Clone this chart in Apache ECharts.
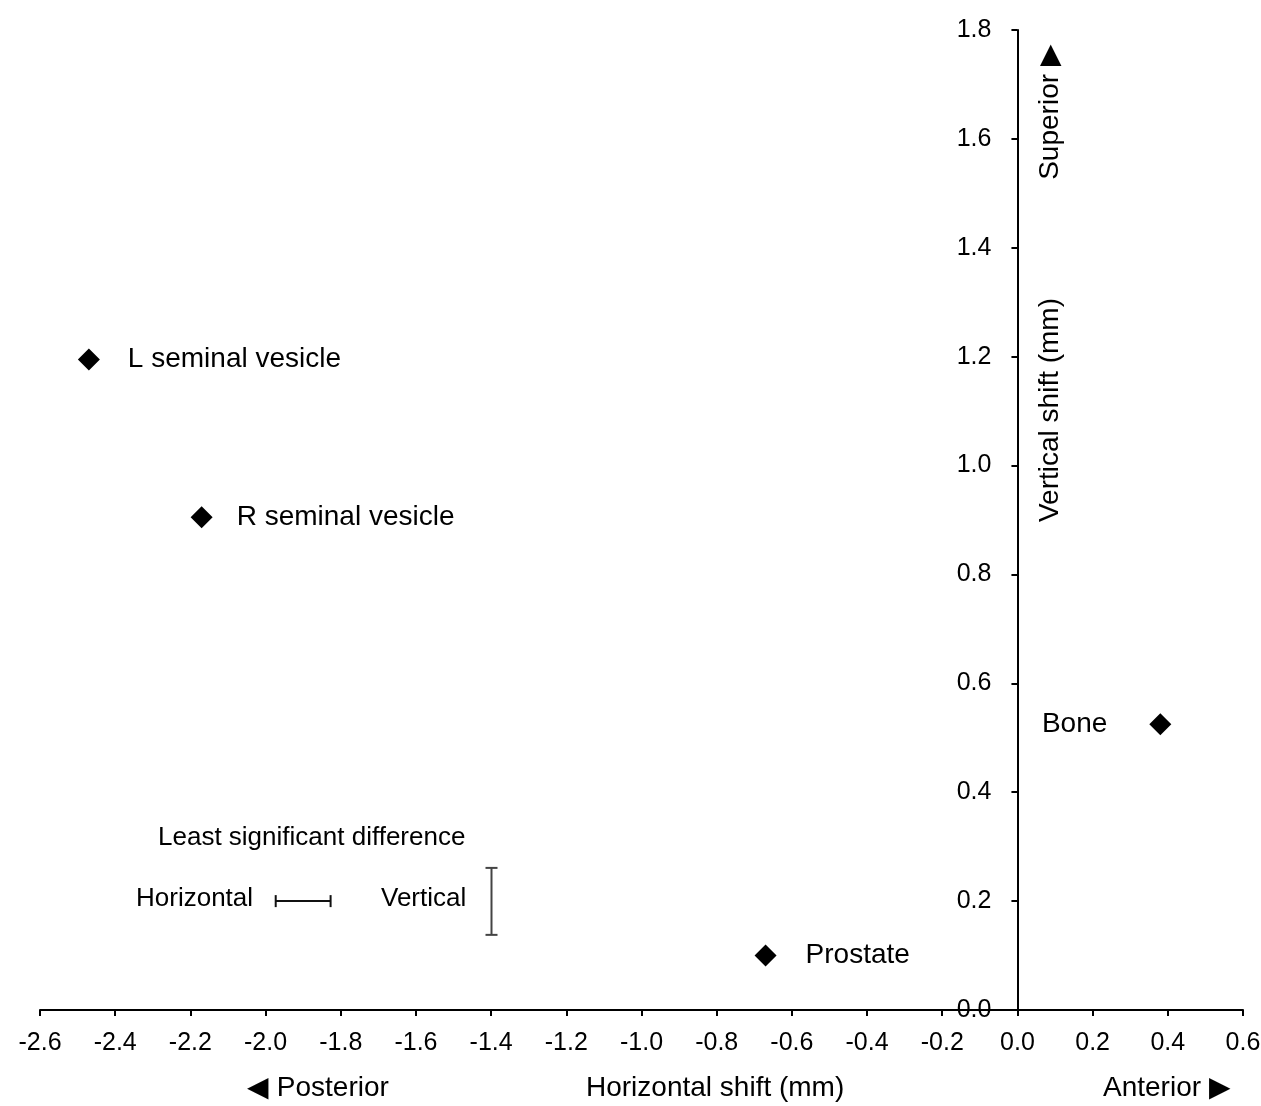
<!DOCTYPE html>
<html>
<head>
<meta charset="utf-8">
<script src="https://cdn.jsdelivr.net/npm/echarts@6/dist/echarts.min.js"></script>
<style>
html,body{margin:0;padding:0;background:#fff;}
#chart{width:1261px;height:1106px;}
</style>
</head>
<body>
<div id="chart"></div>
<script>
// Data
const structures = ['L seminal vesicle', 'R seminal vesicle', 'Prostate', 'Bone'];
const horizontalShift = [-2.47, -2.17, -0.67, 0.38];
const verticalShift = [1.195, 0.905, 0.10, 0.525];
// Least significant difference bars: [x1, y1, x2, y2]
const lsdHorizontal = [-1.973, 0.2, -1.827, 0.2];
const lsdVertical = [-1.399, 0.138, -1.399, 0.261];
const xTicks = { min: -2.6, max: 0.6, interval: 0.2 };
const yTicks = { min: 0, max: 1.8, interval: 0.2 };

const FONT = "'Liberation Sans', Arial, sans-serif";
const GRID = { left: 40, right: 18, top: 30, bottom: 96 };
const W = 1261;
const chart = echarts.init(document.getElementById('chart'));

// place the y axis on x = 0
const plotW = W - GRID.left - GRID.right;
const zeroOffset = -plotW * (0 - xTicks.min) / (xTicks.max - xTicks.min);

const labelCfg = [
  { position: 'right', distance: 28 },
  { position: 'right', distance: 24 },
  { position: 'right', distance: 29 },
  { position: 'left', distance: 42 }
];

const scatterData = structures.map((n, i) => ({
  value: [horizontalShift[i], verticalShift[i]],
  name: n,
  label: {
    show: true,
    position: labelCfg[i].position,
    distance: labelCfg[i].distance,
    formatter: n,
    color: '#000',
    opacity: 1,
    fontFamily: FONT,
    fontSize: 28
  }
}));

function errBar(seg, color, capHalf) {
  return {
    type: 'custom',
    silent: true,
    data: [seg],
    renderItem: function (params, api) {
      const p1 = api.coord([api.value(0), api.value(1)]);
      const p2 = api.coord([api.value(2), api.value(3)]);
      const horiz = Math.abs(p1[1] - p2[1]) < 1;
      const style = { stroke: color, lineWidth: 2 };
      const caps = horiz ? [
        { type: 'line', shape: { x1: p1[0], y1: p1[1] - capHalf, x2: p1[0], y2: p1[1] + capHalf }, style },
        { type: 'line', shape: { x1: p2[0], y1: p2[1] - capHalf, x2: p2[0], y2: p2[1] + capHalf }, style }
      ] : [
        { type: 'line', shape: { x1: p1[0] - capHalf, y1: p1[1], x2: p1[0] + capHalf, y2: p1[1] }, style },
        { type: 'line', shape: { x1: p2[0] - capHalf, y1: p2[1], x2: p2[0] + capHalf, y2: p2[1] }, style }
      ];
      return {
        type: 'group',
        children: [{ type: 'line', shape: { x1: p1[0], y1: p1[1], x2: p2[0], y2: p2[1] }, style }].concat(caps)
      };
    }
  };
}

const lsdStyle = { fill: '#000', font: '26px ' + FONT };
const titleStyle = { fill: '#000', font: '28px ' + FONT };

chart.setOption({
  animation: false,
  backgroundColor: '#fff',
  grid: Object.assign({ containLabel: false, outerBoundsMode: 'none' }, GRID),
  xAxis: {
    type: 'value',
    min: xTicks.min, max: xTicks.max, interval: xTicks.interval,
    splitLine: { show: false },
    axisLine: { show: true, onZero: false, lineStyle: { color: '#000', width: 2 } },
    axisTick: { show: true, length: 6, lineStyle: { color: '#000', width: 2 } },
    axisLabel: {
      color: '#000', fontFamily: FONT, fontSize: 25, margin: 21,
      formatter: v => v.toFixed(1)
    }
  },
  yAxis: {
    type: 'value',
    position: 'left',
    offset: zeroOffset,
    min: yTicks.min, max: yTicks.max, interval: yTicks.interval,
    splitLine: { show: false },
    axisLine: { show: true, onZero: false, lineStyle: { color: '#000', width: 2 } },
    axisTick: { show: true, length: 6, lineStyle: { color: '#000', width: 2 } },
    axisLabel: {
      color: '#000', fontFamily: FONT, fontSize: 25, margin: 26,
      formatter: v => v.toFixed(1)
    }
  },
  series: [
    {
      type: 'scatter',
      symbol: 'diamond',
      symbolSize: 22,
      itemStyle: { color: '#000', opacity: 1 },
      emphasis: { disabled: true },
      data: scatterData
    },
    errBar(lsdHorizontal, '#111', 6),
    errBar(lsdVertical, '#444', 6)
  ],
  graphic: [
    { type: 'text', left: 158, top: 825, style: Object.assign({ text: 'Least significant difference' }, lsdStyle) },
    { type: 'text', left: 136, top: 886, style: Object.assign({ text: 'Horizontal' }, lsdStyle) },
    { type: 'text', left: 381, top: 886, style: Object.assign({ text: 'Vertical' }, lsdStyle) },
    { type: 'text', left: 247, top: 1074, style: Object.assign({ text: '\u25C0 Posterior' }, titleStyle) },
    { type: 'text', left: 586, top: 1074, style: Object.assign({ text: 'Horizontal shift (mm)' }, titleStyle) },
    { type: 'text', left: 1103, top: 1074, style: Object.assign({ text: 'Anterior \u25B6' }, titleStyle) },
    { type: 'text', x: 1050, y: 410, rotation: Math.PI / 2,
      style: Object.assign({ text: 'Vertical shift (mm)', textAlign: 'center', textVerticalAlign: 'middle' }, titleStyle) },
    { type: 'text', x: 1050, y: 112, rotation: Math.PI / 2,
      style: Object.assign({ text: 'Superior \u25B6', textAlign: 'center', textVerticalAlign: 'middle' }, titleStyle) }
  ]
});
</script>
</body>
</html>
